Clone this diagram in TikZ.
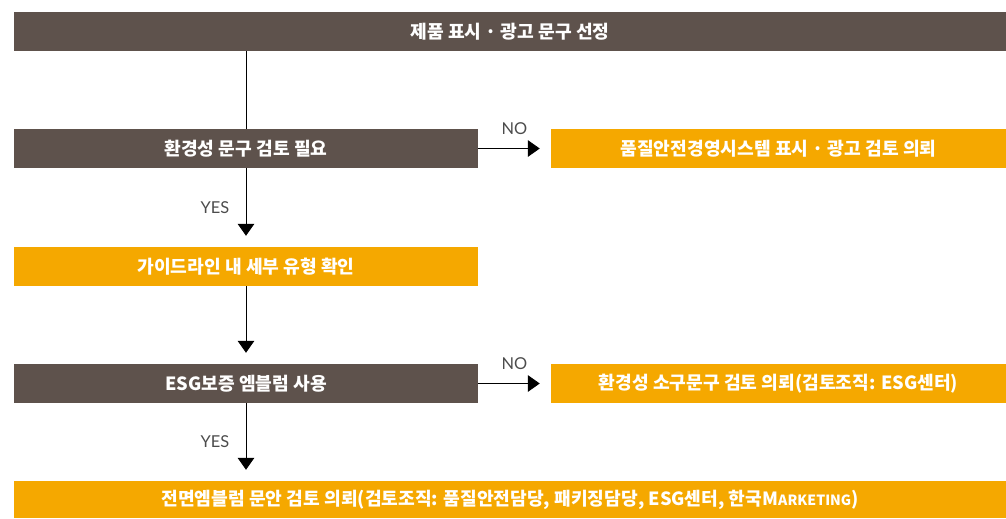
\documentclass[tikz,border=0pt]{standalone}
\usepackage{fontspec}
\setmainfont{Noto Sans CJK KR}
\newfontfamily\latfont{Lato}
\usetikzlibrary{arrows.meta}
\definecolor{boxbrown}{RGB}{94,82,76}
\definecolor{boxorange}{RGB}{245,168,0}
\begin{document}
\begin{tikzpicture}[x=0.03cm,y=-0.03cm,
    brownbox/.style={fill=boxbrown,text=white,font=\bfseries\fontsize{15.5}{18}\selectfont,minimum height=1.17cm,inner sep=0pt},
    orangebox/.style={brownbox,fill=boxorange},
    arr/.style={-{Triangle[width=0.5cm,length=0.36cm]},line width=0.8pt,shorten >=0.33cm},
    lbl/.style={text=black!70,font=\latfont\fontsize{14}{16}\selectfont}]
    \useasboundingbox(0,0)rectangle(1006,518);
    \node[brownbox,minimum width=29.76cm](top)at(510,31.5){제품 표시 · 광고 문구 선정};
    \node[brownbox,minimum width=13.92cm](chk)at(246,148.5){환경성 문구 검토 필요};
    \node[orangebox,minimum width=13.65cm](qa)at(778.5,148.5){품질안전경영시스템 표시 · 광고 검토 의뢰};
    \node[orangebox,minimum width=13.92cm](guide)at(246,266.5){가이드라인 내 세부 유형 확인};
    \node[brownbox,minimum width=13.92cm](esg)at(246,383.5){ESG보증 엠블럼 사용};
    \node[orangebox,minimum width=13.65cm](sub)at(778.5,383.5){환경성 소구문구 검토 의뢰(검토조직: ESG센터)};
    \node[orangebox,minimum width=29.76cm,minimum height=1.11cm](final)at(510,499.5){전면엠블럼 문안 검토 의뢰(검토조직: 품질안전담당, 패키징담당, ESG센터, 한국M{\fontsize{12}{14}\selectfont ARKETING})};
    \draw[line width=0.8pt](chk.north|-top.south)--(chk.north);
    \draw[arr](chk)--(qa)node[lbl,midway,yshift=0.6cm](no1){NO};
    \draw[arr](chk)--(guide)node[lbl,midway,xshift=-0.93cm](yes1){YES};
    \draw[arr](guide)--(esg);
    \draw[arr](esg)--(sub)node[lbl,midway,yshift=0.6cm](no2){NO};
    \draw[arr](esg)--(esg|-final.north)node[lbl,midway,xshift=-0.93cm](yes2){YES};
\end{tikzpicture}
\end{document}
